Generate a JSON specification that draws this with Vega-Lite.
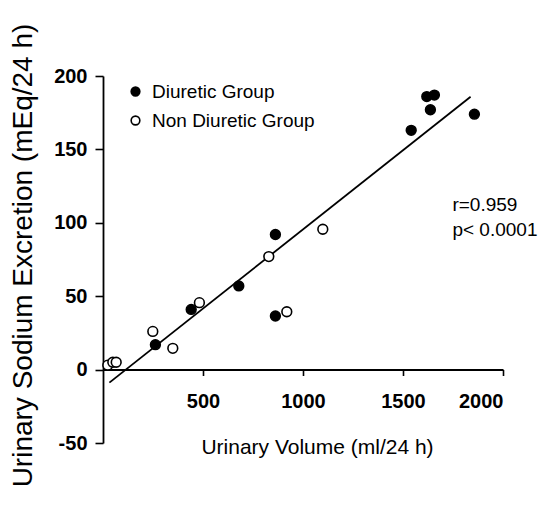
{
  "$schema": "https://vega.github.io/schema/vega-lite/v6.json",
  "width": 400,
  "height": 367,
  "autosize": "none",
  "padding": {"left": 103, "top": 76, "right": 36, "bottom": 64},
  "background": "white",
  "config": {
    "view": {"stroke": null},
    "axis": {
      "grid": false,
      "domainColor": "black",
      "domainWidth": 1.8,
      "tickColor": "black",
      "tickWidth": 1.6,
      "labelColor": "black",
      "titleColor": "black",
      "labelFont": "Liberation Sans, Arial",
      "labelFontWeight": "bold",
      "labelFontSize": 20,
      "labelExpr": "'' + datum.value",
      "titleFont": "Liberation Sans, Arial",
      "titleFontWeight": "normal"
    }
  },
  "datasets": {
    "points": [
      {"volume": 262, "sodium": 17, "group": "Diuretic Group"},
      {"volume": 441, "sodium": 41, "group": "Diuretic Group"},
      {"volume": 679, "sodium": 57, "group": "Diuretic Group"},
      {"volume": 862, "sodium": 92, "group": "Diuretic Group"},
      {"volume": 862, "sodium": 36.5, "group": "Diuretic Group"},
      {"volume": 1541, "sodium": 163, "group": "Diuretic Group"},
      {"volume": 1619, "sodium": 186, "group": "Diuretic Group"},
      {"volume": 1657, "sodium": 187, "group": "Diuretic Group"},
      {"volume": 1637, "sodium": 177, "group": "Diuretic Group"},
      {"volume": 1857, "sodium": 174, "group": "Diuretic Group"},
      {"volume": 24, "sodium": 3, "group": "Non Diuretic Group"},
      {"volume": 49, "sodium": 5, "group": "Non Diuretic Group"},
      {"volume": 66, "sodium": 5, "group": "Non Diuretic Group"},
      {"volume": 249, "sodium": 26, "group": "Non Diuretic Group"},
      {"volume": 349, "sodium": 14.5, "group": "Non Diuretic Group"},
      {"volume": 482, "sodium": 45.6, "group": "Non Diuretic Group"},
      {"volume": 829, "sodium": 77, "group": "Non Diuretic Group"},
      {"volume": 919, "sodium": 39.4, "group": "Non Diuretic Group"},
      {"volume": 1099, "sodium": 95.6, "group": "Non Diuretic Group"}
    ],
    "fit": [
      {"volume": 32, "sodium": -8.9},
      {"volume": 1838, "sodium": 185.9}
    ],
    "stats": [
      {"volume": 1747, "sodium": 112, "label": "r=0.959"},
      {"volume": 1747, "sodium": 95, "label": "p< 0.0001"}
    ]
  },
  "encoding": {
    "x": {
      "field": "volume",
      "type": "quantitative",
      "scale": {"domain": [0, 2000], "nice": false, "zero": false},
      "axis": {
        "title": "Urinary Volume (ml/24 h)",
        "values": [500, 1000, 1500, 2000],
        "offset": -73.5,
        "tickSize": 6,
        "labelPadding": 32,
        "labelBaseline": "alphabetic",
        "titleFontSize": 21,
        "titleX": 214,
        "titleY": 84,
        "titleBaseline": "alphabetic",
        "titleAlign": "center"
      }
    },
    "y": {
      "field": "sodium",
      "type": "quantitative",
      "scale": {"domain": [-50, 200], "nice": false, "zero": false},
      "axis": {
        "title": "Urinary Sodium Excretion (mEq/24 h)",
        "values": [-50, 0, 50, 100, 150, 200],
        "tickSize": 8,
        "labelPadding": 8,
        "titleFontSize": 28,
        "titleAngle": -90,
        "titleX": -72,
        "titleY": 179,
        "titleAlign": "center",
        "titleBaseline": "alphabetic"
      }
    }
  },
  "layer": [
    {
      "data": {"name": "fit"},
      "mark": {"type": "line", "color": "black", "strokeWidth": 1.8},
      "encoding": {}
    },
    {
      "data": {"name": "points"},
      "mark": {"type": "point", "shape": "circle", "filled": true, "stroke": "black", "strokeWidth": 1.6, "size": 95, "opacity": 1},
      "encoding": {
        "fill": {
          "field": "group",
          "type": "nominal",
          "scale": {"domain": ["Diuretic Group", "Non Diuretic Group"], "range": ["black", "white"]},
          "legend": {
            "title": null,
            "orient": "none",
            "legendX": 23,
            "legendY": 6,
            "padding": 0,
            "symbolType": "circle",
            "symbolSize": 75,
            "symbolStrokeColor": "black",
            "symbolStrokeWidth": 1.6,
            "symbolOpacity": 1,
            "labelFont": "Liberation Sans, Arial",
            "labelFontSize": 19,
            "labelColor": "black",
            "labelOffset": 7,
            "rowPadding": 9,
            "labelLimit": 300
          }
        }
      }
    },
    {
      "data": {"name": "stats"},
      "mark": {"type": "text", "align": "left", "baseline": "middle", "font": "Liberation Sans, Arial", "fontSize": 19, "color": "black"},
      "encoding": {"text": {"field": "label"}}
    }
  ]
}
